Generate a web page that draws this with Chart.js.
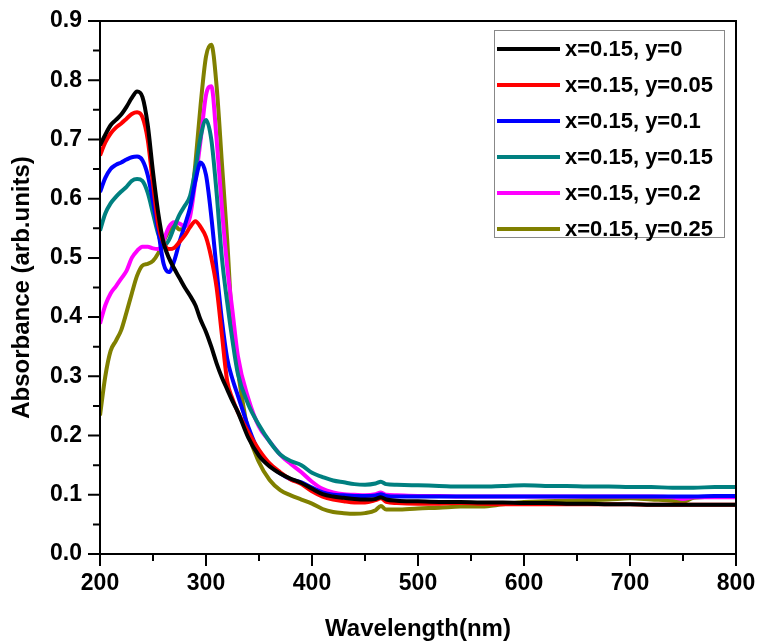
<!DOCTYPE html>
<html>
<head>
<meta charset="utf-8">
<script src="https://cdn.jsdelivr.net/npm/chart.js@4.4.1/dist/chart.umd.min.js"></script>
<style>
  html, body { margin: 0; padding: 0; background: #fff; }
  #wrap { width: 760px; height: 644px; }
</style>
</head>
<body>
<div id="wrap"><canvas id="c" width="760" height="644"></canvas></div>
<script>
const wavelengths = [200,205,210,215,220,225,230,235,240,245,250,255,260,265,270,275,280,285,290,295,300,305,310,315,320,325,330,340,350,360,370,380,390,400,410,420,430,440,450,460,465,470,480,500,520,540,560,580,600,620,640,660,680,700,720,740,750,760,780,800];

const seriesLabels = ["x=0.15, y=0", "x=0.15, y=0.05", "x=0.15, y=0.1", "x=0.15, y=0.15", "x=0.15, y=0.2", "x=0.15, y=0.25"];

const absY0 = [0.690,0.708,0.724,0.733,0.742,0.755,0.770,0.781,0.772,0.725,0.645,0.575,0.525,0.500,0.482,0.466,0.450,0.436,0.420,0.395,0.375,0.350,0.322,0.298,0.278,0.258,0.240,0.196,0.166,0.148,0.136,0.127,0.120,0.110,0.101,0.097,0.095,0.093,0.092,0.093,0.096,0.092,0.090,0.089,0.088,0.088,0.087,0.087,0.086,0.086,0.085,0.085,0.084,0.084,0.083,0.083,0.083,0.083,0.083,0.083];
const absY005 = [0.673,0.695,0.710,0.720,0.727,0.735,0.743,0.746,0.738,0.700,0.625,0.555,0.525,0.515,0.517,0.527,0.538,0.552,0.562,0.552,0.535,0.500,0.450,0.370,0.292,0.262,0.240,0.205,0.176,0.153,0.138,0.126,0.118,0.106,0.097,0.092,0.089,0.087,0.087,0.091,0.094,0.088,0.086,0.085,0.085,0.086,0.085,0.084,0.084,0.084,0.084,0.084,0.084,0.084,0.083,0.083,0.083,0.083,0.083,0.083];
const absY01 = [0.611,0.635,0.650,0.657,0.661,0.666,0.670,0.671,0.665,0.640,0.595,0.545,0.490,0.476,0.495,0.527,0.555,0.585,0.630,0.661,0.640,0.570,0.480,0.395,0.330,0.295,0.268,0.214,0.172,0.150,0.136,0.126,0.121,0.112,0.104,0.100,0.099,0.098,0.098,0.099,0.101,0.098,0.097,0.097,0.097,0.097,0.097,0.097,0.097,0.097,0.097,0.097,0.097,0.097,0.097,0.097,0.097,0.097,0.098,0.098];
const absY015 = [0.546,0.575,0.592,0.603,0.612,0.620,0.630,0.633,0.630,0.610,0.575,0.540,0.520,0.530,0.552,0.573,0.588,0.605,0.650,0.705,0.733,0.700,0.610,0.500,0.425,0.360,0.305,0.252,0.218,0.190,0.168,0.157,0.150,0.137,0.130,0.124,0.121,0.118,0.117,0.119,0.122,0.118,0.117,0.116,0.115,0.114,0.114,0.115,0.116,0.115,0.115,0.114,0.114,0.113,0.113,0.112,0.112,0.112,0.113,0.113];
const absY02 = [0.389,0.420,0.440,0.452,0.465,0.478,0.500,0.512,0.519,0.519,0.516,0.515,0.530,0.552,0.560,0.558,0.553,0.570,0.630,0.700,0.775,0.790,0.700,0.585,0.485,0.410,0.335,0.262,0.215,0.190,0.168,0.152,0.138,0.122,0.110,0.104,0.101,0.100,0.099,0.101,0.104,0.100,0.099,0.098,0.098,0.097,0.097,0.097,0.097,0.097,0.097,0.097,0.097,0.097,0.097,0.096,0.093,0.096,0.096,0.096];
const absY025 = [0.234,0.300,0.343,0.360,0.378,0.408,0.440,0.470,0.487,0.490,0.495,0.508,0.528,0.545,0.555,0.548,0.552,0.580,0.660,0.760,0.840,0.860,0.790,0.660,0.530,0.380,0.310,0.205,0.155,0.125,0.108,0.099,0.092,0.085,0.076,0.071,0.069,0.068,0.069,0.074,0.081,0.075,0.075,0.077,0.078,0.080,0.080,0.084,0.088,0.089,0.090,0.091,0.092,0.094,0.092,0.090,0.088,0.095,0.097,0.098];

const seriesValues = [absY0, absY005, absY01, absY015, absY02, absY025];
const seriesColors = ["#000000", "#ff0000", "#0000ff", "#008080", "#ff00ff", "#808000"];

const FONT = "'Liberation Sans', Arial, Helvetica, sans-serif";

// frame, tick marks and the boxed legend inside the plot
const frameAndLegend = {
  id: "frameAndLegend",
  afterDraw(chart) {
    const { ctx, chartArea: a, scales } = chart;
    const x = scales.x, y = scales.y;
    ctx.save();
    ctx.strokeStyle = "#000";
    ctx.lineWidth = 2;
    ctx.beginPath();
    x.ticks.forEach(t => {
      const px = x.getPixelForValue(t.value);
      const len = t.label === "" ? 7 : 12;
      ctx.moveTo(px, a.bottom);
      ctx.lineTo(px, a.bottom + len);
    });
    y.ticks.forEach(t => {
      const py = y.getPixelForValue(t.value);
      const len = t.label === "" ? 7 : 12;
      ctx.moveTo(a.left, py);
      ctx.lineTo(a.left - len, py);
    });
    ctx.stroke();
    ctx.strokeRect(a.left, a.top, a.right - a.left, a.bottom - a.top);

    // legend
    const lx = 494, ly = 30, lw = 230, lh = 207;
    ctx.fillStyle = "#fff";
    ctx.fillRect(lx, ly, lw, lh);
    ctx.lineWidth = 1;
    ctx.strokeStyle = "#888";
    ctx.strokeRect(lx + 0.5, ly + 0.5, lw, lh);
    ctx.font = "bold 22px " + FONT;
    ctx.textBaseline = "middle";
    ctx.textAlign = "left";
    chart.data.datasets.forEach((ds, i) => {
      const ry = ly + 19 + i * 36;
      ctx.strokeStyle = ds.borderColor;
      ctx.lineWidth = 4;
      ctx.beginPath();
      ctx.moveTo(lx + 3, ry);
      ctx.lineTo(lx + 66, ry);
      ctx.stroke();
      ctx.fillStyle = "#000";
      ctx.fillText(ds.label, lx + 71, ry + 1);
    });
    ctx.restore();
  }
};

new Chart(document.getElementById("c"), {
  type: "line",
  data: {
    datasets: seriesValues.map((vals, i) => ({
      label: seriesLabels[i],
      data: wavelengths.map((w, j) => ({ x: w, y: vals[j] })),
      borderColor: seriesColors[i],
      backgroundColor: seriesColors[i],
      borderWidth: 4,
      pointRadius: 0,
      cubicInterpolationMode: "monotone",
      fill: false
    }))
  },
  options: {
    responsive: false,
    animation: false,
    layout: { padding: { left: 0, right: 24, top: 21, bottom: 0 } },
    plugins: { legend: { display: false }, tooltip: { enabled: false } },
    scales: {
      x: {
        type: "linear",
        min: 200,
        max: 800,
        grid: { display: false, drawTicks: false },
        border: { display: false },
        ticks: {
          stepSize: 50,
          padding: 16,
          color: "#000",
          font: { family: FONT, size: 23, weight: "bold" },
          maxRotation: 0,
          autoSkip: false,
          callback: v => (v % 100 === 0 ? String(v) : "")
        },
        title: {
          display: true,
          text: "Wavelength(nm)",
          color: "#000",
          font: { family: FONT, size: 24, weight: "bold" },
          padding: { top: 0, bottom: 0 }
        },
        afterFit: s => { s.height = 90; s.paddingLeft = 0; s.paddingRight = 0; }
      },
      y: {
        min: 0,
        max: 0.9,
        grid: { display: false, drawTicks: false },
        border: { display: false },
        ticks: {
          stepSize: 0.05,
          padding: 18,
          color: "#000",
          font: { family: FONT, size: 23, weight: "bold" },
          autoSkip: false,
          callback: v => (Math.round(v * 100) % 10 === 0 ? v.toFixed(1) : "")
        },
        title: {
          display: true,
          text: "Absorbance (arb.units)",
          color: "#000",
          font: { family: FONT, size: 24, weight: "bold" },
          padding: { top: 8, bottom: 0 }
        },
        afterFit: s => { s.width = 100; s.paddingTop = 0; s.paddingBottom = 0; }
      }
    }
  },
  plugins: [frameAndLegend]
});
</script>
</body>
</html>
